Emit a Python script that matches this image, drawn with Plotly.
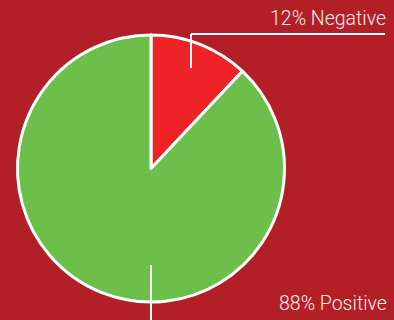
import plotly.graph_objects as go

labels = ["Negative", "Positive"]
values = [12, 88]
colors = ["#EE2328", "#6CBF4B"]
label_texts = ["12% Negative", "88% Positive"]

BG = "#B31F26"
W, H = 394, 320

fig = go.Figure(go.Pie(
    labels=labels, values=values, sort=False, direction="clockwise", rotation=0,
    marker=dict(colors=colors, line=dict(color="white", width=3)),
    textinfo="none", hoverinfo="label+percent", showlegend=False,
    domain=dict(x=[16/W, 286/W], y=[(H-302)/H, (H-35)/H]),
))

line = dict(color="white", width=2)
# Negative callout
fig.add_shape(type="line", xref="paper", yref="paper", x0=191/W, x1=191/W, y0=1-68/H, y1=1-34/H, line=line)
fig.add_shape(type="line", xref="paper", yref="paper", x0=191/W, x1=385/W, y0=1-34/H, y1=1-34/H, line=line)
# Positive callout
fig.add_shape(type="line", xref="paper", yref="paper", x0=151/W, x1=151/W, y0=1-265/H, y1=-0.05, line=line)

font = dict(family="Roboto", size=19.5, color="#F8ECEC", weight=300)
fig.add_annotation(text=label_texts[0], xref="paper", yref="paper", x=388/W, y=1-19/H,
                   xanchor="right", yanchor="middle", showarrow=False, font=font)
fig.add_annotation(text=label_texts[1], xref="paper", yref="paper", x=389/W, y=1-303/H,
                   xanchor="right", yanchor="middle", showarrow=False, font=font)

fig.update_layout(width=W, height=H, margin=dict(l=0, r=0, t=0, b=0),
                  paper_bgcolor=BG, plot_bgcolor=BG)
fig.write_html("out.html", config={"displayModeBar": False},
               post_script="document.body.style.margin='0';document.body.style.overflow='hidden';document.body.style.background='" + BG + "';")
